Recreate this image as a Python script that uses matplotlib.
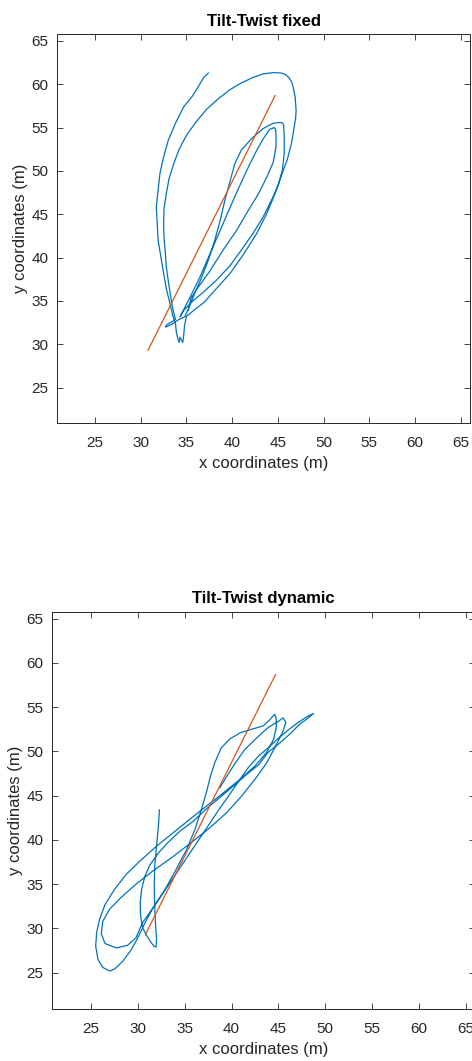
import matplotlib
matplotlib.use("Agg")
import matplotlib.pyplot as plt

plt.rcParams['font.family'] = ['Liberation Sans', 'DejaVu Sans']

# reference line (same in both panels)
ref_x = [30.8, 44.7]
ref_y = [29.3, 58.7]

# Tilt-Twist fixed trajectory
fixed_x = [37.4, 36.9, 36.5, 35.7, 34.7, 33.8, 33.0, 32.5, 32.1, 31.9, 31.7, 31.8, 31.9, 32.2, 32.5,
           32.8, 33.2, 33.5, 33.8, 33.9, 34.1, 34.2, 34.3, 34.6, 34.7,
           34.8, 35.0, 35.8, 36.9, 38.1, 39.8, 41.2, 42.7, 43.8, 44.7, 45.4, 46.0, 46.5, 46.8,
           46.95, 47.0, 46.9, 46.7, 46.5, 46.2, 45.8, 45.4, 44.5, 43.4, 42.3, 40.9, 39.8, 38.5, 37.2,
           36.05, 35.0, 34.2, 33.6, 33.1, 32.8, 32.55, 32.5, 32.55, 32.7, 32.8, 33.0, 33.2, 33.4,
           33.6, 33.8,
           33.4, 32.8, 32.7, 32.8, 33.4, 34.1, 34.85,
           35.3, 35.9, 36.7, 37.4, 38.1, 38.7, 39.2, 39.8, 40.3, 41.0, 42.1, 43.4, 44.5, 45.3,
           45.55, 45.65, 45.7, 45.7, 45.5, 45.05, 44.3, 43.4, 42.3, 41.0, 39.8, 38.3, 36.85, 35.6,
           34.7, 34.3,
           34.85, 35.6, 36.5, 37.6, 38.7, 39.8, 40.7, 41.8, 42.7, 43.4, 44.1, 44.6, 44.75, 44.8,
           44.8, 44.5, 43.8, 42.9, 41.8, 40.5, 39.0, 37.6, 36.3, 35.5, 35.2]
fixed_y = [61.3, 60.8, 60.1, 58.7, 57.4, 55.5, 53.5, 51.6, 49.7, 47.8, 45.8, 43.9, 42.0, 40.1, 38.2,
           36.4, 34.7, 33.3, 32.4, 31.4, 30.5, 30.2, 30.8, 30.2, 31.0,
           32.2, 33.2, 33.9, 34.8, 36.2, 38.2, 40.3, 42.8, 45.1, 47.4, 49.5, 51.2, 53.2, 55.1,
           56.1, 57.0, 58.5, 59.6, 60.3, 60.8, 61.15, 61.3, 61.35, 61.2, 60.8, 60.1, 59.4, 58.35, 57.1,
           55.65, 54.1, 52.5, 50.8, 49.1, 47.4, 45.65, 43.9, 42.2, 40.5, 38.9, 37.4, 36.0, 34.7,
           33.7, 32.85,
           32.6, 32.2, 32.0, 32.0, 32.3, 32.8, 33.2,
           34.3, 35.85, 37.8, 39.7, 42.0, 44.3, 46.6, 48.9, 50.85, 52.4, 53.7, 54.9, 55.5, 55.6,
           55.5, 55.2, 53.9, 52.0, 50.1, 48.35, 46.6, 44.7, 42.8, 40.85, 39.1, 37.4, 36.0, 34.9,
           33.9, 33.15,
           34.3, 35.85, 37.8, 40.5, 43.15, 45.85, 48.0, 50.5, 52.4, 53.7, 54.8, 55.0, 54.8, 54.3,
           52.8, 51.0, 49.3, 47.4, 45.5, 43.15, 40.85, 38.5, 36.6, 35.3, 33.9]

# Tilt-Twist dynamic trajectory
dyn_x = [32.3, 32.2, 32.0, 31.8, 31.75, 31.8, 31.9, 32.0, 31.95, 31.7, 31.3, 30.9, 30.5, 30.3,
         30.25, 30.4, 30.75, 31.3, 32.25, 33.2, 34.5, 35.9, 37.3, 38.75, 40.2, 41.6, 42.9, 43.9,
         45.2, 46.25, 47.3, 48.2, 48.75,
         48.0, 47.0, 45.9, 44.9, 43.9, 42.9, 41.8, 40.8, 39.8, 38.7, 37.5, 36.3, 35.1, 33.9,
         32.7, 31.6, 30.7, 30.0, 29.3, 28.4, 27.5, 27.0, 26.25, 25.75, 25.5, 25.6, 25.9, 26.5,
         27.5, 28.75, 30.2, 32.0, 33.75, 35.5, 37.3, 39.1, 40.9, 42.5, 43.75, 44.5, 44.8, 44.75, 44.6,
         44.1, 43.4, 42.1, 40.9, 39.8, 38.9, 38.2, 37.75, 37.3, 36.8, 36.1, 35.2, 34.1, 32.9,
         31.6, 30.5, 29.8, 28.9, 27.7, 26.5, 26.1, 26.25, 27.0, 28.2, 29.8, 31.6, 33.6, 35.7,
         37.7, 39.5, 41.1, 42.5, 43.75, 44.8, 45.5, 45.8, 45.5,
         45.0, 43.9, 42.7, 41.4, 40.4, 39.5, 38.75]
dyn_y = [43.4, 41.6, 39.3, 37.05, 34.8, 32.5, 30.3, 28.8, 27.9, 28.0, 28.6, 29.3, 30.1, 31.4,
         32.9, 34.4, 35.9, 37.2, 38.6, 39.7, 41.0, 42.1, 43.5, 44.8, 46.1, 47.4, 48.5, 49.9,
         51.0, 52.0, 53.1, 53.8, 54.3,
         53.9, 53.2, 52.3, 51.4, 50.4, 49.5, 48.2, 46.7, 45.15, 43.5, 41.6, 39.7, 37.8, 35.9,
         34.0, 32.3, 30.5, 28.95, 27.6, 26.3, 25.4, 25.2, 25.6, 26.5, 28.0, 29.5, 31.0, 32.7,
         34.4, 36.1, 37.6, 39.3, 40.8, 42.3, 43.8, 45.3, 46.85, 48.35, 49.9, 51.4, 52.9, 53.8, 54.2,
         53.6, 52.9, 52.5, 52.1, 51.4, 50.4, 48.7, 47.2, 45.3, 43.5, 41.2, 38.9, 36.7, 34.4,
         32.3, 30.65, 28.95, 28.1, 27.8, 28.3, 29.4, 30.8, 32.2, 33.5, 35.0, 36.5, 38.0, 39.7,
         41.4, 43.1, 45.0, 46.85, 48.7, 50.8, 52.3, 53.3, 53.8,
         53.4, 52.7, 51.55, 50.2, 48.7, 47.2, 45.9]

ticks = [25, 30, 35, 40, 45, 50, 55, 60, 65]
xlim = (20.84, 66.03)
ylim = (20.9, 65.8)

blue = '#0072BD'
orange = '#D95319'
dark = '#262626'

fig = plt.figure(figsize=(4.72, 10.61), dpi=100)
ax1 = fig.add_axes([0.1208, 0.6013, 0.875, 0.3666])
ax2 = fig.add_axes([0.1102, 0.0490, 0.8970, 0.3745])

panels = [(ax1, fixed_x, fixed_y, 'Tilt-Twist fixed'),
          (ax2, dyn_x, dyn_y, 'Tilt-Twist dynamic')]

for ax, tx, ty, title in panels:
    ax.plot(tx, ty, color=blue, lw=0.9, solid_joinstyle='round')
    ax.plot(ref_x, ref_y, color=orange, lw=0.9)
    ax.set_xlim(*xlim)
    ax.set_ylim(*ylim)
    ax.set_xticks(ticks)
    ax.set_yticks(ticks)
    ax.tick_params(direction='in', length=4, width=0.6, top=True, right=True,
                   colors=dark, labelsize=11)
    ax.tick_params(axis='x', pad=9)
    ax.tick_params(axis='y', pad=6)
    for s in ax.spines.values():
        s.set_color(dark)
        s.set_linewidth(0.7)
    ax.set_xlabel('x coordinates (m)', fontsize=12, color=dark, labelpad=5)
    ax.set_ylabel('y coordinates (m)', fontsize=12, color=dark, labelpad=3)
    ax.set_title(title, fontsize=12, fontweight='bold', color='black', pad=6)

fig.savefig('out.png', dpi=100)
